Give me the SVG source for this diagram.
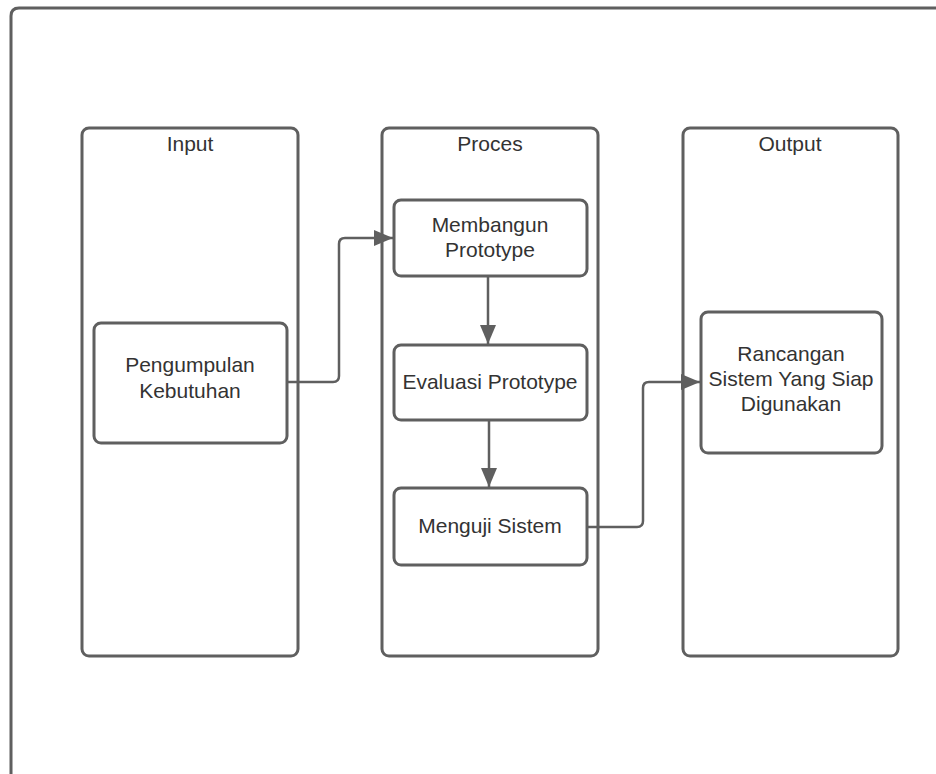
<svg xmlns="http://www.w3.org/2000/svg" width="936" height="774" viewBox="0 0 936 774">
<defs>
<style>
.box{fill:#fff;stroke:#5f5f5f;stroke-width:3}
.lane{fill:none;stroke:#5f5f5f;stroke-width:3}
.t{font-family:"Liberation Sans",Arial,sans-serif;font-size:21px;fill:#333;text-anchor:middle}
.c{fill:none;stroke:#5f5f5f;stroke-width:2.5;stroke-linejoin:round}
</style>
<marker id="ah" markerUnits="userSpaceOnUse" markerWidth="20" markerHeight="16" viewBox="0 0 20 16" refX="19" refY="8" orient="auto">
<path d="M0,0 L19,8 L0,16 Z" fill="#5f5f5f"/>
</marker>
</defs>
<rect width="936" height="774" fill="#fff"/>
<path class="lane" d="M11,776 V16 Q11,8 19,8 H940"/>
<g id="lane-input">
<rect class="lane" x="82" y="128" width="216" height="528" rx="7"/>
<text class="t" x="190" y="151">Input</text>
</g>
<g id="lane-proces">
<rect class="lane" x="382" y="128" width="216" height="528" rx="7"/>
<text class="t" x="490" y="151">Proces</text>
</g>
<g id="lane-output">
<rect class="lane" x="683" y="128" width="215" height="528" rx="7"/>
<text class="t" x="790" y="151">Output</text>
</g>
<g id="connectors">
<path class="c" d="M287,382 H333 Q339,382 339,376 V244 Q339,238 345,238 H393" marker-end="url(#ah)"/>
<path class="c" d="M488,276 V344" marker-end="url(#ah)"/>
<path class="c" d="M489,420 V487" marker-end="url(#ah)"/>
<path class="c" d="M587,527 H637 Q643,527 643,521 V388 Q643,382 649,382 H700" marker-end="url(#ah)"/>
</g>
<g id="pengumpulan">
<rect class="box" x="94" y="323" width="193" height="120" rx="7"/>
<text class="t" x="190" y="372">Pengumpulan</text>
<text class="t" x="190" y="398">Kebutuhan</text>
</g>
<g id="membangun">
<rect class="box" x="394" y="200" width="193" height="76" rx="7"/>
<text class="t" x="490" y="232">Membangun</text>
<text class="t" x="490" y="257">Prototype</text>
</g>
<g id="evaluasi">
<rect class="box" x="394" y="345" width="193" height="75" rx="7"/>
<text class="t" x="490" y="389">Evaluasi Prototype</text>
</g>
<g id="menguji">
<rect class="box" x="394" y="488" width="193" height="77" rx="7"/>
<text class="t" x="490" y="533">Menguji Sistem</text>
</g>
<g id="rancangan">
<rect class="box" x="701" y="312" width="181" height="141" rx="7"/>
<text class="t" x="791" y="361">Rancangan</text>
<text class="t" x="791" y="386">Sistem Yang Siap</text>
<text class="t" x="791" y="411">Digunakan</text>
</g>
</svg>
